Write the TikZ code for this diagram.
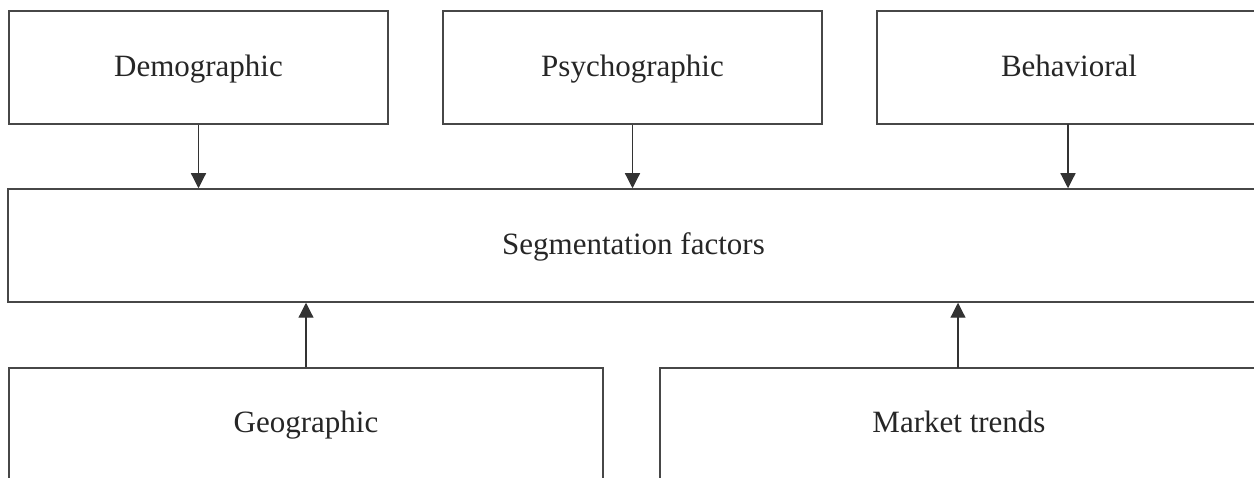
\documentclass[tikz,border=0pt]{standalone}
\usepackage{fontspec}
\setmainfont{Liberation Serif}
\usetikzlibrary{arrows.meta}
\begin{document}
\begin{tikzpicture}[x=1pt,y=-1pt,
  box/.style={draw=black!72, line width=1.5pt, rectangle, inner sep=0pt,
    font=\fontsize{31}{37}\selectfont, text=black!85, text height=23pt, text depth=5pt},
  arr/.style={draw=black!80, line width=1.2pt, -{Triangle[width=15pt,length=15pt]}}]
\useasboundingbox (0,0) rectangle (1254,478);
\clip (0,0) rectangle (1254,478);
\fill[white] (0,0) rectangle (1254,478);
\node[box, minimum width=379pt, minimum height=113pt] (dem) at (198.5,67.5) {Demographic};
\node[box, minimum width=379pt, minimum height=113pt] (psy) at (632.5,67.5) {Psychographic};
\node[box, minimum width=384pt, minimum height=113pt] (beh) at (1069,67.5) {Behavioral};
\node[box, minimum width=1251pt, minimum height=113pt] (seg) at (633.5,245.5) {Segmentation factors};
\node[box, minimum width=594pt, minimum height=112pt] (geo) at (306,424) {Geographic};
\node[box, minimum width=598pt, minimum height=112pt] (mkt) at (959,424) {Market trends};
\draw[arr] (dem.south) -- (dem.south |- seg.north);
\draw[arr] (psy.south) -- (psy.south |- seg.north);
\draw[arr] (1068,124) coordinate (bs) -- (bs |- seg.north);
\draw[arr] (geo.north) -- (geo.north |- seg.south);
\draw[arr] (958,368) coordinate (ms) -- (ms |- seg.south);
\end{tikzpicture}
\end{document}
